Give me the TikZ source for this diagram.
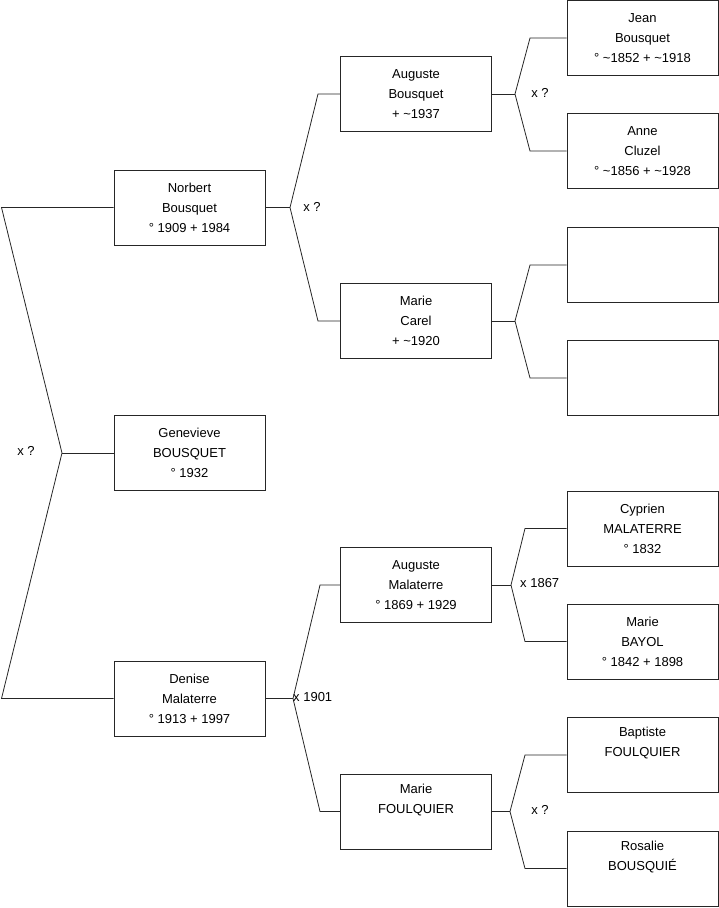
\documentclass[tikz,border=0pt]{standalone}
\usepackage{fontspec}
\setmainfont{Liberation Sans}
\begin{document}
\begin{tikzpicture}[x=1pt,y=-1pt,
  person/.style={draw=black!85, line width=0.8pt, minimum width=151pt, minimum height=75pt,
    inner sep=0pt, align=center, font=\fontsize{13}{20}\selectfont},
  link/.style={black!85, line width=0.8pt},
  mariage/.style={font=\fontsize{13}{15}\selectfont, inner sep=0pt}]
  \useasboundingbox (0,0) rectangle (719,908);

  % personnes
  \node[person] (gen) at (189.5,453) {Genevieve\\BOUSQUET\\° 1932};
  \node[person] (norbert) at (189.5,207.5) {Norbert\\Bousquet\\° 1909 + 1984};
  \node[person] (denise) at (189.5,698.5) {Denise\\Malaterre\\° 1913 + 1997};

  \node[person] (augusteB) at (416,94) {Auguste\\Bousquet\\+ \textasciitilde1937};
  \node[person] (marieC) at (416,321) {Marie\\Carel\\+ \textasciitilde1920};
  \node[person] (augusteM) at (416,585) {Auguste\\Malaterre\\° 1869 + 1929};
  \node[person] (marieF) at (416,811.5) {Marie\\FOULQUIER\\\strut};

  \node[person] (jean) at (642.5,38) {Jean\\Bousquet\\° \textasciitilde1852 + \textasciitilde1918};
  \node[person] (anne) at (642.5,151) {Anne\\Cluzel\\° \textasciitilde1856 + \textasciitilde1928};
  \node[person] (vide1) at (642.5,265) {};
  \node[person] (vide2) at (642.5,378) {};
  \node[person] (cyprien) at (642.5,528.5) {Cyprien\\MALATERRE\\° 1832};
  \node[person] (marieB) at (642.5,641.5) {Marie\\BAYOL\\° 1842 + 1898};
  \node[person] (baptiste) at (642.5,755) {Baptiste\\FOULQUIER\\\strut};
  \node[person] (rosalie) at (642.5,868.5) {Rosalie\\BOUSQUIÉ\\\strut};

  % fourches
  \coordinate (f0) at (62,453);
  \coordinate (f0a) at (1.5,207.5);
  \coordinate (f0b) at (1.5,698.5);
  \coordinate (f1) at (290,207.5);
  \coordinate (f1a) at (318,94);
  \coordinate (f1b) at (318,321);
  \coordinate (f2) at (293,698.5);
  \coordinate (f2a) at (320,585);
  \coordinate (f2b) at (320,811.5);
  \coordinate (f3) at (515,94);
  \coordinate (f3a) at (530,38);
  \coordinate (f3b) at (530,151);
  \coordinate (f4) at (515,321);
  \coordinate (f4a) at (530,265);
  \coordinate (f4b) at (530,378);
  \coordinate (f5) at (511,585);
  \coordinate (f5a) at (525,528.5);
  \coordinate (f5b) at (525,641.5);
  \coordinate (f6) at (510,811.5);
  \coordinate (f6a) at (525,755);
  \coordinate (f6b) at (525,868.5);

  \draw[link] (gen.west) -- (f0);
  \draw[link] (norbert.west) -- (f0a) -- (f0) -- (f0b) -- (denise.west);
  \draw[link] (norbert.east) -- (f1);
  \draw[link] (augusteB.west) -- (f1a) -- (f1) -- (f1b) -- (marieC.west);
  \draw[link] (denise.east) -- (f2);
  \draw[link] (augusteM.west) -- (f2a) -- (f2) -- (f2b) -- (marieF.west);
  \draw[link] (augusteB.east) -- (f3);
  \draw[link] (jean.west) -- (f3a) -- (f3) -- (f3b) -- (anne.west);
  \draw[link] (marieC.east) -- (f4);
  \draw[link] (vide1.west) -- (f4a) -- (f4) -- (f4b) -- (vide2.west);
  \draw[link] (augusteM.east) -- (f5);
  \draw[link] (cyprien.west) -- (f5a) -- (f5) -- (f5b) -- (marieB.west);
  \draw[link] (marieF.east) -- (f6);
  \draw[link] (baptiste.west) -- (f6a) -- (f6) -- (f6b) -- (rosalie.west);

  % mariages
  \node[mariage] (m0) at (26,451) {x ?};
  \node[mariage] (m1) at (312,207) {x ?};
  \node[mariage, anchor=west] (m2) at (293,697) {x 1901};
  \node[mariage] (m3) at (540,93) {x ?};
  \node[mariage, anchor=west] (m5) at (520,583) {x 1867};
  \node[mariage] (m6) at (540,810) {x ?};
\end{tikzpicture}
\end{document}
